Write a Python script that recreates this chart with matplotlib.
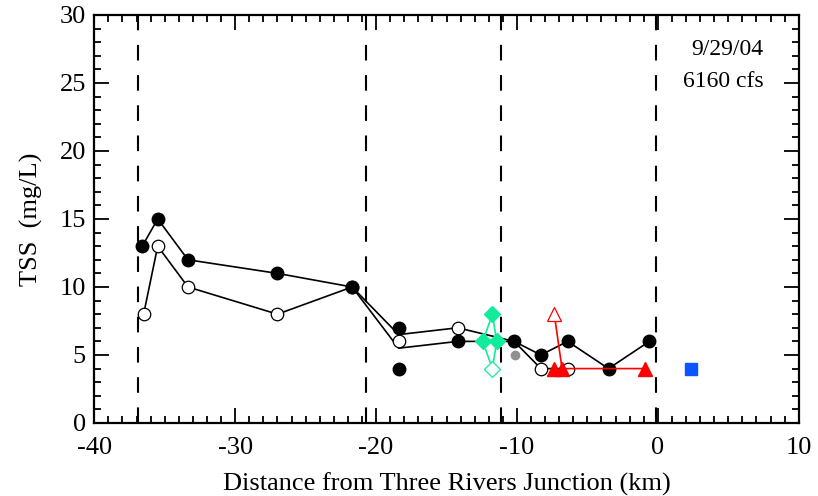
import matplotlib
matplotlib.use("Agg")
import matplotlib.pyplot as plt
from matplotlib.ticker import MultipleLocator

plt.rcParams['font.family'] = ['Liberation Serif', 'DejaVu Serif']
plt.rcParams['axes.unicode_minus'] = False

# section boundaries (dashed lines)
dash_x = [-36.9, -20.7, -11.1, -0.1]

# filled circles: markers and connecting line (line uses means at -18.4)
filled_x = [-36.6, -35.5, -33.35, -27.0, -21.7, -18.4, -18.4, -14.2, -10.2, -8.3, -6.4, -3.5, -0.6]
filled_y = [13, 15, 12, 11, 10, 7, 4, 6, 6, 5, 6, 4, 6]
filled_line_x = [-36.6, -35.5, -33.35, -27.0, -21.7, -18.4, -14.2, -10.2, -8.3, -6.4, -3.5, -0.6]
filled_line_y = [13, 15, 12, 11, 10, 5.5, 6, 6, 5, 6, 4, 6]

# open circles: markers and connecting line
open_x = [-36.5, -35.5, -33.35, -27.0, -21.7, -18.4, -14.2, -8.3, -6.4]
open_y = [8, 13, 10, 8, 10, 6, 7, 4, 4]
open_line_x = [-36.5, -35.5, -33.35, -27.0, -21.7, -18.4, -14.2, -10.2, -8.3, -6.4]
open_line_y = [8, 13, 10, 8, 10, 6.5, 7, 6, 4, 4]

# grey point
grey_x = [-10.15]
grey_y = [5]

# green diamonds
green_line_x = [-11.74, -12.43, -11.74, -11.44, -11.74]
green_line_y = [8, 6, 4, 6, 8]
green_fill_x = [-11.74, -12.43, -11.44]
green_fill_y = [8, 6, 6]
green_open_x = [-11.74]
green_open_y = [4]

# red triangles
red_line_x = [-7.35, -6.8, -0.9]
red_line_y = [8, 4, 4]
red_fill_x = [-7.4, -6.8, -0.9]
red_fill_y = [4, 4, 4]
red_open_x = [-7.35]
red_open_y = [8]

# blue square
blue_x = [2.35]
blue_y = [4]

date_text = "9/29/04"
flow_text = "6160 cfs"

fig = plt.figure(figsize=(8.18, 4.96), dpi=100)
ax = fig.add_axes([0.1153, 0.1472, 0.8611, 0.8226])

for xv in dash_x:
    ax.axvline(xv, color='black', lw=1.5, linestyle=(0, (7.5, 7)), zorder=1)

ax.plot(filled_line_x, filled_line_y, color='black', lw=1.2, zorder=2)
ax.plot(open_line_x, open_line_y, color='black', lw=1.2, zorder=2)
ax.plot(filled_x, filled_y, 'o', color='black', ms=9, ls='none', zorder=4)
ax.plot(open_x, open_y, 'o', mfc='white', mec='black', mew=0.9, ms=9, ls='none', zorder=3)
ax.plot(grey_x, grey_y, 'o', color='#909090', ms=6, ls='none', zorder=4)

green = '#12eb9a'
ax.plot(green_line_x, green_line_y, color=green, lw=1.2, zorder=5)
ax.plot(green_fill_x, green_fill_y, 'D', color=green, ms=8.5, ls='none', zorder=6)
ax.plot(green_open_x, green_open_y, 'D', mfc='white', mec=green, mew=0.9, ms=8.5, ls='none', zorder=6)

red = '#ff0000'
ax.plot(red_line_x, red_line_y, color=red, lw=1.2, zorder=5)
ax.plot(red_fill_x, red_fill_y, '^', color=red, ms=10, ls='none', zorder=6)
ax.plot(red_open_x, red_open_y, '^', mfc='white', mec=red, mew=0.9, ms=10, ls='none', zorder=6)

ax.plot(blue_x, blue_y, 's', color='#0a55ff', ms=8, ls='none', zorder=6)

ax.set_xlim(-40, 10)
ax.set_ylim(0, 30)
ax.xaxis.set_major_locator(MultipleLocator(10))
ax.xaxis.set_minor_locator(MultipleLocator(1))
ax.yaxis.set_major_locator(MultipleLocator(5))
ax.yaxis.set_minor_locator(MultipleLocator(1))
ax.tick_params(which='both', direction='in', top=True, right=True,
               labeltop=False, labelright=False, width=1.3, labelsize=19)
ax.tick_params(axis='x', which='both', pad=10)
ax.tick_params(axis='y', which='both', pad=6)
ax.tick_params(which='major', length=11)
ax.tick_params(which='minor', length=5)
for sp in ax.spines.values():
    sp.set_linewidth(1.6)

ax.set_xlabel('Distance from Three Rivers Junction (km)', fontsize=19, labelpad=10)
ax.set_ylabel('TSS  (mg/L)', fontsize=19, labelpad=12)

ax.text(0.95, 0.915, date_text, transform=ax.transAxes, ha='right', va='center', fontsize=17)
ax.text(0.95, 0.837, flow_text, transform=ax.transAxes, ha='right', va='center', fontsize=17)

fig.savefig('out.png', dpi=100)
